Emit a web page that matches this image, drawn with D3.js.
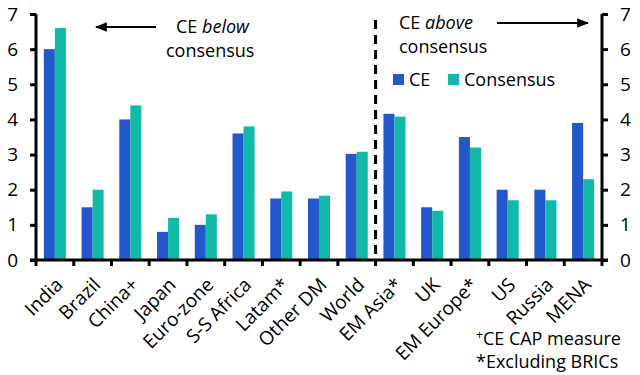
<!DOCTYPE html>
<html>
<head>
<meta charset="utf-8">
<script src="https://cdn.jsdelivr.net/npm/d3@7"></script>
<style>
  body { margin: 0; background: #fff; }
  text { font-family: "Open Sans", sans-serif; fill: #000; }
</style>
</head>
<body>
<script>
var categories = ["India", "Brazil", "China+", "Japan", "Euro-zone", "S-S Africa", "Latam*",
                  "Other DM", "World", "EM Asia*", "UK", "EM Europe*", "US", "Russia", "MENA"];
var ceValues = [6.0, 1.5, 4.0, 0.8, 1.0, 3.6, 1.75, 1.75, 3.02, 4.16, 1.5, 3.5, 2.0, 2.0, 3.9];
var consensusValues = [6.6, 2.0, 4.4, 1.2, 1.3, 3.8, 1.95, 1.83, 3.08, 4.08, 1.4, 3.2, 1.7, 1.7, 2.3];
var yTicks = [0, 1, 2, 3, 4, 5, 6, 7];
var seriesNames = ["CE", "Consensus"];

var colors = { CE: "#2258cc", Consensus: "#10b9a8" };
var width = 640, height = 375;
var plotLeft = 36, plotRight = 602, plotTop = 14, plotBottom = 260;

var svg = d3.select("body").append("svg")
    .attr("width", width)
    .attr("height", height);

var x = d3.scaleBand().domain(categories).range([plotLeft, plotRight]).paddingInner(0).paddingOuter(0);
var xs = d3.scaleBand().domain(seriesNames).range([0, x.bandwidth()]).paddingInner(0).paddingOuter(0.71);
var y = d3.scaleLinear().domain([0, 7]).range([plotBottom, plotTop]);

var rows = categories.map(function(c, i) {
    return { cat: c, vals: [{ s: "CE", v: ceValues[i] }, { s: "Consensus", v: consensusValues[i] }] };
});

var groups = svg.selectAll("g.cat").data(rows).enter().append("g")
    .attr("transform", function(d) { return "translate(" + x(d.cat) + ",0)"; });
groups.selectAll("rect").data(function(d) { return d.vals; }).enter().append("rect")
    .attr("x", function(d) { return xs(d.s); })
    .attr("width", xs.bandwidth())
    .attr("y", function(d) { return y(d.v); })
    .attr("height", function(d) { return plotBottom - y(d.v); })
    .attr("fill", function(d) { return colors[d.s]; });

// axes
var leftAxis = svg.append("g").attr("transform", "translate(" + plotLeft + ",0)")
    .call(d3.axisLeft(y).tickValues(yTicks).tickFormat(d3.format("d")).tickSize(6).tickPadding(12));
var rightAxis = svg.append("g").attr("transform", "translate(" + plotRight + ",0)")
    .call(d3.axisRight(y).tickValues(yTicks).tickFormat(d3.format("d")).tickSize(6).tickPadding(12));
[leftAxis, rightAxis].forEach(function(a) {
    a.select(".domain").attr("stroke", "#000").attr("stroke-width", 3).attr("d",
        "M0," + plotTop + "V" + plotBottom);
    a.selectAll(".tick line").attr("stroke", "#000").attr("stroke-width", 3);
    a.selectAll(".tick text").style("font-size", "19px").attr("font-family", "Open Sans");
});

// bottom axis with ticks at band boundaries
var bx = svg.append("g");
bx.append("line").attr("x1", plotLeft - 6).attr("x2", plotRight + 6)
    .attr("y1", plotBottom).attr("y2", plotBottom).attr("stroke", "#000").attr("stroke-width", 3);
var bounds = categories.map(function(c) { return x(c); }).concat([plotRight]);
bx.selectAll("line.t").data(bounds).enter().append("line")
    .attr("x1", function(d) { return d; }).attr("x2", function(d) { return d; })
    .attr("y1", plotBottom).attr("y2", plotBottom + 6)
    .attr("stroke", "#000").attr("stroke-width", 3);
bx.selectAll("text").data(categories).enter().append("text")
    .attr("transform", function(d) {
        return "translate(" + (x(d) + x.bandwidth() / 2 + 9) + "," + (plotBottom + 26) + ") rotate(-45)";
    })
    .attr("text-anchor", "end")
    .style("font-size", "19px")
    .text(function(d) { return d; });

// dashed divider
var divX = x("EM Asia*");
svg.append("line").attr("x1", divX).attr("x2", divX).attr("y1", 20).attr("y2", plotBottom)
    .attr("stroke", "#000").attr("stroke-width", 3).attr("stroke-dasharray", "9,6");

// annotations
svg.append("defs").append("marker").attr("id", "ah")
    .attr("viewBox", "0 0 10 10").attr("refX", 9).attr("refY", 5)
    .attr("markerWidth", 12).attr("markerHeight", 12).attr("markerUnits", "userSpaceOnUse")
    .attr("orient", "auto")
    .append("path").attr("d", "M0,1L10,5L0,9z").attr("fill", "#000");

svg.append("line").attr("x1", 156).attr("x2", 96).attr("y1", 27).attr("y2", 27)
    .attr("stroke", "#000").attr("stroke-width", 2).attr("marker-end", "url(#ah)");
var t1 = svg.append("text").attr("x", 176).attr("y", 33).style("font-size", "18px");
t1.append("tspan").text("CE ");
t1.append("tspan").style("font-style", "italic").text("below");
svg.append("text").attr("x", 166).attr("y", 57).style("font-size", "18px").text("consensus");

var t2 = svg.append("text").attr("x", 399).attr("y", 29).style("font-size", "18px");
t2.append("tspan").text("CE ");
t2.append("tspan").style("font-style", "italic").text("above");
svg.append("text").attr("x", 399).attr("y", 53).style("font-size", "18px").text("consensus");
svg.append("line").attr("x1", 497).attr("x2", 588).attr("y1", 23).attr("y2", 23)
    .attr("stroke", "#000").attr("stroke-width", 2).attr("marker-end", "url(#ah)");

// legend
var legendX = [393, 448];
var lg = svg.selectAll("g.lg").data(seriesNames).enter().append("g")
    .attr("transform", function(d, i) { return "translate(" + legendX[i] + ",74)"; });
lg.append("rect").attr("width", 11).attr("height", 11).attr("fill", function(d) { return colors[d]; });
lg.append("text").attr("x", 16).attr("y", 12).style("font-size", "18px").text(function(d) { return d; });

// footnotes
var f1 = svg.append("text").attr("x", 476).attr("y", 345).style("font-size", "18px");
f1.append("tspan").attr("dy", -6).style("font-size", "12px").text("+");
f1.append("tspan").attr("dy", 6).text("CE CAP measure");
var f2 = svg.append("text").attr("x", 476).attr("y", 368).style("font-size", "18px");
f2.append("tspan").text("*Excluding BRICs");
</script>
</body>
</html>
